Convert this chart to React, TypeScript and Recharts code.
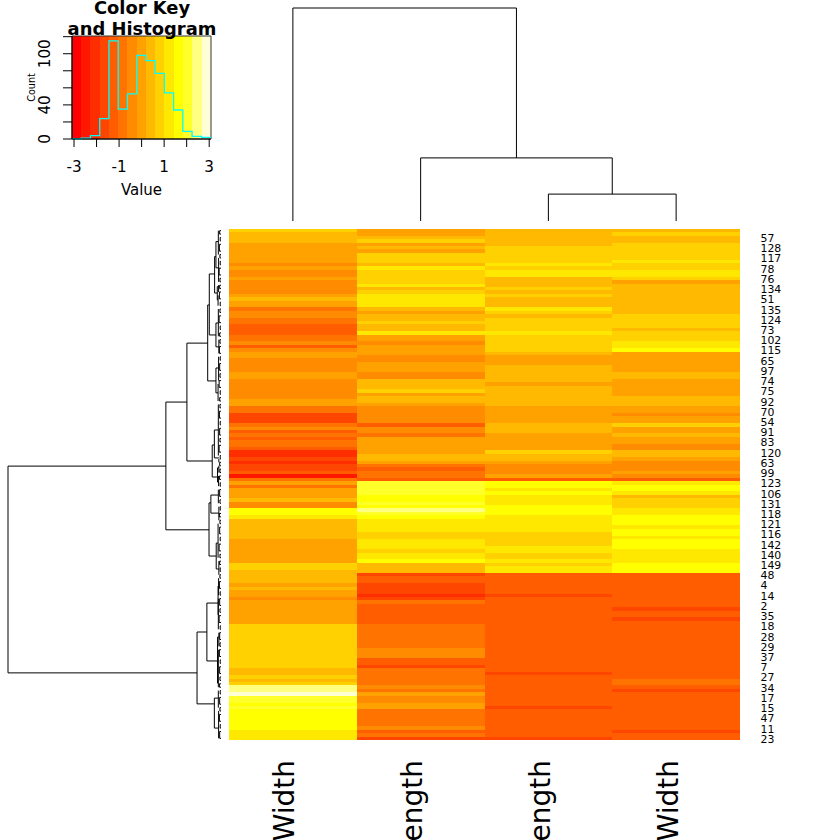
import React from "react";
import { BarChart, Bar, XAxis, YAxis, LineChart, Line, ComposedChart, ReferenceArea } from "recharts";

const FONT = "'DejaVu Sans', sans-serif";
const HEAT = ["#FF0000","#FF1700","#FF2E00","#FF4600","#FF5D00","#FF7400","#FF8B00","#FFA200","#FFB900","#FFD100","#FFE800","#FFFF00","#FFFF2A","#FFFF80","#FFFFD5"];

const COLUMN_NAMES = ["Sepal.Width", "Sepal.Length", "Petal.Length", "Petal.Width"];
const ROW_LABELS = ["57","128","117","78","76","134","51","135","124","73","102","115","65","97","74","75","92","70","54","91","83","120","63","99","123","106","131","118","121","116","142","140","149","48","4","14","2","35","18","28","29","37","7","27","34","17","15","47","11","23"];

const sepalWidth = [
  9,8,8,8,7,7,7,7,7,7, 6,7,6,6,7,6,6,6,6,7, 8,7,7,5,6,6,5,5,4,4, 4,5,5,6,4,6,7,7,6,6,
  6,6,7,7,6,6,6,6,6,6, 7,7,5,5,3,3,3,5,6,4, 5,4,5,5,4,2,2,3,2,3, 3,4,1,5,7,5,7,7,7,8,
  6,6,11,11,10,8,8,8,8,8, 8,7,7,7,7,7,7,7,9,9, 8,8,8,8,7,8,7,7,6,7, 7,7,7,7,7,7,9,9,9,9,
  9,9,9,9,9,9,9,9,9,8, 8,9,8,9,13,13,14,12,12,11, 12,11,11,11,11,11,11,10,10,10,
];
const sepalLength = [
  7,7,8,9,7,8,7,9,9,9, 8,10,9,9,9,9,10,8,9,10, 10,10,10,8,7,8,8,9,8,8, 10,7,7,6,7,7,7,6,6,7,
  7,7,6,6,8,8,8,9,7,8, 8,7,6,6,6,6,6,4,6,6, 5,7,7,7,7,7,8,8,7,5, 4,5,5,4,12,12,12,12,11,11,
  12,11,13,12,11,10,10,10,10,9, 9,10,10,10,9,10,10,11,8,8, 8,3,4,4,3,3,3,2,3,5, 4,4,4,4,4,4,5,5,5,5,
  5,5,5,6,6,6,4,4,3,5, 5,5,5,5,6,5,7,6,6,7, 7,5,5,5,5,5,6,4,5,3,
];
const petalLength = [
  8,8,8,8,8,9,9,9,9,9, 10,9,10,10,8,8,8,9,8,9, 8,8,8,10,9,8,9,9,9,9, 10,9,9,9,9,9,8,7,7,7,
  8,8,8,8,8,7,8,8,8,8, 8,8,7,7,7,7,7,8,8,8, 7,7,7,7,7,9,8,8,7,6, 6,6,7,4,11,11,10,11,10,10,
  10,11,11,11,10,10,10,10,10,9, 9,9,9,10,10,9,9,10,9,10, 10,4,4,4,4,4,4,3,4,4, 4,4,4,4,4,4,4,4,4,4,
  4,4,4,4,4,4,4,4,4,4, 3,4,4,4,4,4,4,4,4,4, 3,4,4,4,4,4,4,4,4,3,
];
const petalWidth = [
  8,9,8,8,9,9,9,9,9,10, 9,9,10,10,9,7,8,8,8,8, 8,8,8,8,8,9,9,9,9,8, 9,9,9,10,10,11,7,7,7,7,
  7,7,8,8,7,7,7,7,7,8, 8,8,7,7,6,7,7,9,7,7, 8,7,7,6,6,8,8,7,6,6, 6,7,6,4,10,11,11,10,8,9,
  9,9,10,10,11,11,11,10,11,11, 10,11,11,11,10,10,10,10,11,11, 11,4,4,4,4,4,4,4,4,4, 4,3,4,4,3,4,4,4,4,4,
  4,4,4,4,4,4,4,4,4,4, 4,4,5,5,4,3,4,4,4,4, 4,4,4,4,4,4,4,3,4,4,
];
const COLUMNS = [sepalWidth, sepalLength, petalLength, petalWidth];

const KEY_BREAKS = [-3.09,-2.68,-2.27,-1.86,-1.45,-1.04,-0.63,-0.22,0.19,0.6,1.01,1.42,1.83,2.24,2.66,3.08];
const KEY_COUNTS = [0,1,4,24,115,35,53,98,92,77,54,34,9,3,2];
const KEY_X_TICKS = [-3,-2,-1,0,1,2,3];
const KEY_X_SHOWN = [-3,-1,1,3];
const KEY_Y_TICKS = [0,20,40,60,80,100,120];
const KEY_Y_SHOWN = [0,40,100];

// [height, positionA, positionB, heightA, heightB]
const COLUMN_MERGES = [
  [1.01, 2.5, 3.5, 0, 0],
  [2.37, 1.5, 3, 0, 1.01],
  [8, 0.5, 2.25, 0, 2.37],
];
const ROW_MERGES = [
  [8,69.6,130.3,2.07,.9],[2.07,50.8,88.3,1.28,.45],[1.28,33.5,68.1,.5,.33],[.5,22.3,44.6,.44,.19],
  [.44,13.2,31.1,.24,.19],[.24,8.1,18.8,.19,.14],[.19,3.7,11.4,.1,.09],[.14,16.9,20.8,.09,.11],
  [.19,27.6,34.6,.1,.08],[.19,40.8,48.1,.09,.11],[.33,63.4,72.8,.25,.13],[.25,59,67.2,.1,.08],
  [.13,70.1,74.3,.08,.09],[.45,80.4,96,.38,.18],[.38,78.1,83.4,.1,.08],[.18,92.2,99.8,.11,.08],
  [.9,118.3,139.4,.53,.25],[.53,109.8,126.8,.11,.13],[.11,104.8,113.3,.09,.1],[.13,119.8,133.3,.08,.1],
  [.25,137.7,146.5,.1,.09],
];
// [height, firstRow, lastRow]
const ROW_SPINES = [
  [.1,0,7],[.09,8,15],[.09,16,18],[.11,19,22],[.1,23,31],[.08,32,36],[.09,37,44],[.11,45,50],
  [.1,51,66],[.08,67,68],[.08,69,71],[.09,72,75],[.1,76,80],[.08,81,85],[.11,86,96],[.08,97,101],
  [.09,102,107],[.1,108,117],[.08,118,122],[.1,123,134],[.1,135,140],[.09,141,149],
];
const ROW_TWIGS = [
  [.05,0,1],[.03,2,3],[.06,4,6],[.04,7,8],[.03,9,10],[.07,11,13],[.04,14,15],[.05,16,17],[.06,18,20],[.03,21,22],
  [.04,23,24],[.07,25,27],[.03,28,29],[.05,30,31],[.04,32,33],[.06,34,36],[.03,37,38],[.05,39,41],[.04,42,43],[.07,44,46],
  [.03,47,48],[.05,49,50],[.04,51,52],[.06,53,55],[.03,56,57],[.05,58,60],[.04,61,62],[.07,63,65],[.03,66,67],[.05,68,69],
  [.04,70,71],[.06,72,73],[.03,74,75],[.05,76,78],[.04,79,80],[.03,81,82],[.06,83,84],[.04,85,86],[.05,87,89],[.03,90,91],
  [.07,92,94],[.04,95,96],[.05,97,98],[.03,99,100],[.04,101,102],[.06,103,105],[.03,106,107],[.05,108,110],[.04,111,112],[.07,113,115],
  [.03,116,117],[.05,118,120],[.04,121,122],[.06,123,125],[.03,126,127],[.05,128,130],[.04,131,132],[.06,133,134],[.03,135,136],[.05,137,139],
  [.04,140,141],[.06,142,144],[.03,145,146],[.05,147,149],
];

const toPath = (merges: number[][]) =>
  merges.flatMap(([h, a, b, ha, hb]) => [
    { h: ha, p: a }, { h, p: a }, { h, p: b }, { h: hb, p: b }, { h, p: null },
  ]);

const rowPath = toPath([
  ...ROW_MERGES,
  ...ROW_SPINES.map(([h, f, l]) => [h, f + 0.5, l + 0.5, h, h]),
  ...ROW_TWIGS.map(([h, f, l]) => [h, f + 0.5, l + 0.5, 0, 0]),
]);
const columnPath = toPath(COLUMN_MERGES);

const heatRows = sepalWidth.map((_, i) => ({ row: i, w0: 1, w1: 1, w2: 1, w3: 1 }));
const keyLine = KEY_BREAKS.map((b, i) => ({ x: b, count: KEY_COUNTS[Math.min(i, KEY_COUNTS.length - 1)] }));

// Rows are painted top-down; each runs one pixel long so the next row covers the remainder.
const lastRow = sepalWidth.length - 1;
const cellShape = (col: number) => (p: any) => (
  <rect x={p.x} y={p.y} width={p.width + (col < 3 ? 1 : 0)} height={p.index === lastRow ? p.height : p.height + 1}
    fill={HEAT[COLUMNS[col][p.index]]} shapeRendering="crispEdges" />
);

const RowTick = (p: any) => {
  const r = p.payload.value;
  if ((r - 2) % 3 !== 0) return <g />;
  return (
    <text x={760.5} y={p.y + 4.5} fontSize={10.9} fontFamily={FONT} fill="#000">
      {ROW_LABELS[(r - 2) / 3]}
    </text>
  );
};
const ColTick = (p: any) => {
  const i = Math.floor(p.payload.value);
  const x = p.x + 1.5;
  return (
    <text x={x} y={760} transform={`rotate(-90 ${x} 760)`} textAnchor="end" fontSize={28} fontFamily={FONT} fill="#000">
      {COLUMN_NAMES[i]}
    </text>
  );
};
const KeyXTick = (p: any) =>
  KEY_X_SHOWN.includes(p.payload.value) ? (
    <text x={p.x} y={172} textAnchor="middle" fontSize={15.2} fontFamily={FONT} fill="#000">{p.payload.value}</text>
  ) : <g />;
const KeyYTick = (p: any) =>
  KEY_Y_SHOWN.includes(p.payload.value) ? (
    <text x={50} y={p.y} transform={`rotate(-90 50 ${p.y})`} textAnchor="middle" fontSize={15.2} fontFamily={FONT} fill="#000">{p.payload.value}</text>
  ) : <g />;

export default function App() {
  return (
    <div style={{ position: "absolute", left: 0, top: 0, width: 840, height: 840, overflow: "hidden", background: "#fff", fontFamily: FONT }}>
      <div style={{ position: "absolute", left: 0, top: 0 }}>
        <BarChart width={840} height={840} data={heatRows} layout="vertical" barCategoryGap={0} barGap={0} barSize={511 / 150}
          margin={{ top: 229, left: 229, right: 0, bottom: 0 }}>
          <XAxis type="number" domain={[0, 4]} ticks={[0.5, 1.5, 2.5, 3.5]} height={100} axisLine={false} tickLine={false} tick={ColTick} interval={0} />
          <YAxis type="category" dataKey="row" orientation="right" width={100} axisLine={false} tickLine={false} interval={0} tick={RowTick} />
          {COLUMNS.map((_, c) => (
            <Bar key={c} dataKey={`w${c}`} stackId="heat" isAnimationActive={false} shape={cellShape(c)} />
          ))}
        </BarChart>
      </div>

      <div style={{ position: "absolute", left: 0, top: 0 }}>
        <LineChart width={840} height={230} data={columnPath} margin={{ top: 8, left: 229, right: 100, bottom: 9 }}>
          <XAxis type="number" dataKey="p" domain={[0, 4]} hide />
          <YAxis type="number" domain={[0, 8]} hide />
          <Line dataKey="h" stroke="#000" strokeWidth={1} dot={false} isAnimationActive={false} connectNulls={false} />
        </LineChart>
      </div>

      <div style={{ position: "absolute", left: 0, top: 0 }}>
        <LineChart width={229} height={840} data={rowPath} margin={{ top: 229, left: 8, right: 8, bottom: 100 }}>
          <XAxis type="number" dataKey="h" domain={[0, 8]} reversed hide />
          <YAxis type="number" domain={[0, 150]} reversed hide />
          <Line dataKey="p" stroke="#000" strokeWidth={1} dot={false} isAnimationActive={false} connectNulls={false} />
        </LineChart>
      </div>

      <div style={{ position: "absolute", left: 0, top: 0 }}>
        <ComposedChart width={230} height={215} data={keyLine} margin={{ top: 36, left: 30, right: 19, bottom: 0 }}>
          <XAxis type="number" dataKey="x" domain={[-3.09, 3.08]} ticks={KEY_X_TICKS} interval={0} height={76} tickSize={8} stroke="#000" tick={KeyXTick}
            label={{ value: "Value", position: "insideBottom", offset: 20, fontSize: 15, fill: "#000", fontFamily: FONT }} />
          <YAxis type="number" domain={[0, 120.8]} ticks={KEY_Y_TICKS} interval={0} width={42} tickSize={9} stroke="#000" tick={KeyYTick}
            label={{ value: "Count", angle: -90, position: "insideLeft", offset: 2, fontSize: 9.6, fill: "#000", fontFamily: FONT, style: { textAnchor: "middle" } }} />
          {KEY_COUNTS.map((_, i) => (
            <ReferenceArea key={i} x1={KEY_BREAKS[i]} x2={KEY_BREAKS[i + 1]} y1={0} y2={120.8} fill={HEAT[i]} fillOpacity={1} stroke="none" shapeRendering="crispEdges" />
          ))}
          <ReferenceArea x1={-3.09} x2={3.08} y1={0} y2={120.8} fill="none" stroke="#333" strokeWidth={1} />
          <Line dataKey="count" type="stepAfter" stroke="#00FFFF" strokeWidth={1.3} dot={false} isAnimationActive={false} />
        </ComposedChart>
      </div>

      <svg width={230} height={45} style={{ position: "absolute", left: 0, top: 0 }}>
        <text x={142} y={14} textAnchor="middle" fontSize={17.9} fontWeight="bold" fontFamily={FONT} fill="#000">Color Key</text>
        <text x={142} y={35} textAnchor="middle" fontSize={17.9} fontWeight="bold" fontFamily={FONT} fill="#000">and Histogram</text>
      </svg>
    </div>
  );
}
